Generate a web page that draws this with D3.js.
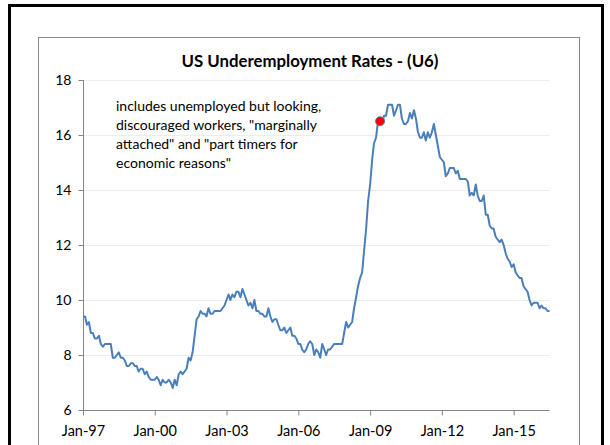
<!DOCTYPE html>
<html><head><meta charset="utf-8">
<script src="https://cdn.jsdelivr.net/npm/d3@7"></script>
<style>html,body{margin:0;padding:0;background:#fff;overflow:hidden}svg{display:block}</style>
</head><body>
<svg id="c" width="610" height="445"></svg>
<script>
const startYear = 1997;
// Monthly U6 rates, Jan 1997 .. Jul 2016
const y1997 = [9.4,9.4,9.1,9.2,8.8,8.8,8.6,8.6,8.7,8.4,8.3,8.4];
const y1998 = [8.4,8.4,8.4,7.9,7.9,8.0,8.1,7.9,7.9,7.8,7.6,7.6];
const y1999 = [7.7,7.7,7.6,7.6,7.4,7.5,7.5,7.3,7.4,7.2,7.1,7.1];
const y2000 = [7.1,7.2,7.1,6.9,7.1,7.0,7.0,7.1,7.0,6.8,7.1,6.9];
const y2001 = [7.3,7.4,7.3,7.4,7.5,7.9,7.8,8.1,8.7,9.3,9.4,9.6];
const y2002 = [9.5,9.5,9.4,9.7,9.5,9.5,9.6,9.6,9.6,9.6,9.7,9.8];
const y2003 = [10.0,10.2,10.0,10.2,10.1,10.3,10.3,10.1,10.4,10.2,10.0,9.8];
const y2004 = [9.9,9.7,10.0,9.6,9.6,9.5,9.5,9.4,9.4,9.7,9.4,9.2];
const y2005 = [9.3,9.3,9.1,8.9,8.9,9.0,8.8,8.9,9.0,8.7,8.7,8.6];
const y2006 = [8.4,8.4,8.2,8.1,8.2,8.4,8.5,8.4,8.0,8.2,8.1,7.9];
const y2007 = [8.4,8.2,8.0,8.2,8.2,8.3,8.4,8.4,8.4,8.4,8.4,8.8];
const y2008 = [9.2,9.0,9.1,9.2,9.7,10.1,10.5,10.8,11.0,11.8,12.6,13.6];
const y2009 = [14.2,15.1,15.7,15.9,16.5,16.5,16.4,16.7,16.7,17.1,17.1,17.1];
const y2010 = [16.7,16.9,17.1,17.1,16.6,16.4,16.4,16.5,16.8,16.6,16.9,16.6];
const y2011 = [16.1,15.9,15.9,16.1,15.8,16.1,15.9,16.1,16.4,16.0,15.6,15.2];
const y2012 = [15.1,15.0,14.5,14.6,14.8,14.8,14.8,14.6,14.7,14.4,14.4,14.4];
const y2013 = [14.4,14.3,13.8,13.9,13.8,14.2,13.8,13.6,13.6,13.8,13.1,13.1];
const y2014 = [12.7,12.6,12.6,12.3,12.2,12.1,12.2,12.0,11.7,11.5,11.4,11.2];
const y2015 = [11.3,11.0,10.9,10.8,10.8,10.5,10.4,10.3,10.0,9.8,9.9,9.9];
const y2016 = [9.9,9.7,9.8,9.7,9.7,9.6,9.6];
const highlight = {year: 2009, month: 5, value: 16.5};
const yTicks = [6,8,10,12,14,16,18];
const xTickYears = [1997,2000,2003,2006,2009,2012,2015];
const titleText = "US Underemployment Rates - (U6)";
const noteLines = ["includes unemployed but looking,", "discouraged workers, \"marginally", "attached\" and \"part timers for", "economic reasons\""];

const years = [y1997,y1998,y1999,y2000,y2001,y2002,y2003,y2004,y2005,y2006,y2007,y2008,y2009,y2010,y2011,y2012,y2013,y2014,y2015,y2016];
const data = [];
years.forEach((arr,i)=>arr.forEach((v,m)=>data.push({date:new Date(startYear+i,m,1), value:v})));

const font = "Lato, 'Open Sans', sans-serif";
const svg = d3.select("#c");

// frames
svg.append("rect").attr("x",38.5).attr("y",37.5).attr("width",541).attr("height",460)
  .attr("fill","#fff").attr("stroke","#888").attr("stroke-width",1);
svg.append("rect").attr("x",9.5).attr("y",5.5).attr("width",593).attr("height",480)
  .attr("fill","none").attr("stroke","#000").attr("stroke-width",3);

const x = d3.scaleTime().domain([data[0].date, data[data.length-1].date]).range([83, 549.5]);
const y = d3.scaleLinear().domain([6,18]).range([410, 80]);

// gridlines
svg.append("g").selectAll("line").data(yTicks.slice(1)).join("line")
  .attr("x1",83).attr("x2",549.5).attr("y1",d=>y(d)+0.5).attr("y2",d=>y(d)+0.5)
  .attr("stroke","#ececec").attr("stroke-width",1);

// y axis
const ya = svg.append("g").attr("transform","translate(83.5,0)")
  .call(d3.axisLeft(y).tickValues(yTicks).tickSize(5).tickPadding(7).tickFormat(d3.format("d")));
ya.select(".domain").attr("stroke","#868686").attr("d","M-0,80V410");
ya.selectAll(".tick line").attr("stroke","#868686");
ya.selectAll("text").attr("font-family",font).attr("font-size",14).attr("fill","#000");

// x axis
const xa = svg.append("g").attr("transform","translate(0,410.5)")
  .call(d3.axisBottom(x).tickValues(xTickYears.map(yr=>new Date(yr,0,1))).tickSize(5).tickPadding(10)
    .tickFormat(d3.timeFormat("%b-%y")));
xa.select(".domain").attr("stroke","#868686").attr("d","M83,0H549.5");
xa.selectAll(".tick line").attr("stroke","#868686");
xa.selectAll("text").attr("font-family",font).attr("font-size",14.5).attr("fill","#000");

// line
svg.append("path").datum(data)
  .attr("d", d3.line().x(d=>x(d.date)).y(d=>y(d.value)))
  .attr("fill","none").attr("stroke","#4a7ebb").attr("stroke-width",2).attr("stroke-linejoin","round");

// highlight point
svg.append("circle").attr("cx",x(new Date(highlight.year,highlight.month,1))).attr("cy",y(highlight.value))
  .attr("r",4.5).attr("fill","#ff0000").attr("stroke","#4a7ebb").attr("stroke-width",1);

// title
svg.append("text").attr("x",310).attr("y",66.5).attr("text-anchor","middle")
  .attr("font-family",font).attr("font-weight","bold").attr("font-size",16.8).attr("fill","#000").text(titleText);

// note
svg.append("g").selectAll("text").data(noteLines).join("text")
  .attr("x",116).attr("y",(d,i)=>110.5+i*19)
  .attr("font-family",font).attr("font-size",14).attr("fill","#000").text(d=>d);
</script>
</body></html>
